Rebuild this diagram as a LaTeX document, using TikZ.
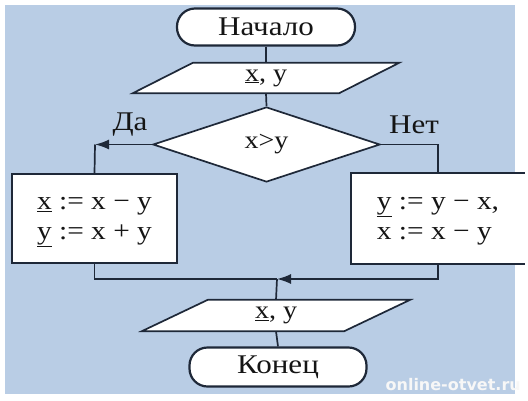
\documentclass[tikz,border=0pt]{standalone}
\usepackage{fontspec}
\setmainfont{Liberation Serif}
\newfontfamily\wmfont{DejaVu Sans}
\usetikzlibrary{shapes.geometric,arrows.meta,calc}
\definecolor{bgblue}{HTML}{B9CDE5}
\definecolor{lineclr}{HTML}{1E2838}
\definecolor{txtclr}{HTML}{151515}
\tikzset{
  conn/.style={draw=lineclr, line width=1.7pt},
  term/.style={draw=lineclr, line width=2.2pt, fill=white, rounded corners=18pt, inner sep=0pt, text=txtclr, font=\fontsize{27}{30}\selectfont},
  paratext/.style={inner sep=0pt, text=txtclr, font=\fontsize{25}{28}\selectfont},
  para/.style={draw=lineclr, line width=1.7pt, fill=white},
  procbox/.style={draw=lineclr, line width=1.7pt, fill=white, inner sep=0pt, text=txtclr, align=left, font=\fontsize{26}{30}\selectfont},
  cond/.style={diamond, draw=lineclr, line width=1.7pt, fill=white, inner sep=0pt, text=txtclr, font=\fontsize{25}{28}\selectfont},
  lbl/.style={text=txtclr, inner sep=0pt, font=\fontsize{27}{30}\selectfont},
  tip/.style={-{Latex[length=14pt,width=10pt]}},
}
\begin{document}
\begin{tikzpicture}[x=1pt,y=-1pt]
\useasboundingbox (0,0) rectangle (528,400);
\fill[bgblue] (5,5) rectangle (515,394);

% start
\node[term, minimum width=178pt, minimum height=37pt] (start) at (266,27) {\scalebox{1.15}[1]{Начало}};

% input parallelogram
\node[paratext, minimum width=206pt, minimum height=30pt] (p1) at (266,78) {};
\draw[para] ($(p1.north west)+(30,0)$) -- ($(p1.north east)+(30,0)$) -- ($(p1.south east)+(-30,0)$) -- ($(p1.south west)+(-30,0)$) -- cycle;
\node[paratext] (p1t) at (p1.center) {\scalebox{1.12}[1]{\underline{x}, y}};

% condition
\node[cond, minimum width=227pt, minimum height=75pt] (d) at (266.5,144.5) {\scalebox{1.12}[1]{x>y}};

% boxes
\node[procbox, minimum width=165pt, minimum height=89pt] (lb) at (94.5,218.5) {\scalebox{1.13}[1]{\begin{tabular}{@{}l@{}}\underline{x} := x − y\\ \underline{y} := x + y\end{tabular}}};
\node[procbox, draw=none, minimum width=172pt, minimum height=89pt] (rb) at (438,218.5) {\scalebox{1.13}[1]{\begin{tabular}{@{}l@{}}\underline{y} := y − x,\\ x := x − y\end{tabular}}};
\draw[conn] (rb.north east) -- (rb.north west) -- (rb.south west) -- (rb.south east);

% labels
\node[lbl] (yes) at (130,125) {\scalebox{1.15}[1]{Да}};
\node[lbl] (no) at (414,125) {\scalebox{1.15}[1]{Нет}};

% output parallelogram
\node[paratext, minimum width=202pt, minimum height=31pt] (p2) at (276,315.5) {};
\draw[para] ($(p2.north west)+(33,0)$) -- ($(p2.north east)+(33,0)$) -- ($(p2.south east)+(-33,0)$) -- ($(p2.south west)+(-33,0)$) -- cycle;
\node[paratext] (p2t) at (p2.center) {\scalebox{1.12}[1]{\underline{x}, y}};

% end
\node[term, minimum width=177pt, minimum height=39pt] (end) at (278,367) {\scalebox{1.15}[1]{Конец}};

% connectors
\coordinate (lc) at (95,144.5);
\coordinate (rc) at (438,144.5);
\coordinate (jn) at (277,279);
\draw[conn] (start.south) -- (p1.north);
\draw[conn] (p1.south) -- (d.north);
\draw[conn, tip] (d.west) -- (lc);
\draw[conn] (lc) -- (lb.north);
\draw[conn] (d.east) -- (rc) -- (rb.north);
\draw[conn] (lb.south) |- (jn);
\draw[conn, tip] (rb.south) |- (jn);
\draw[conn] (jn) -- (p2.north);
\draw[conn] (p2.south) -- (end.north);

% watermark
\node[anchor=base east, inner sep=0pt, text=white!94!gray, font=\wmfont\bfseries\fontsize{16}{18}\selectfont] (wm) at (521,390) {online-otvet.ru};
\end{tikzpicture}
\end{document}
